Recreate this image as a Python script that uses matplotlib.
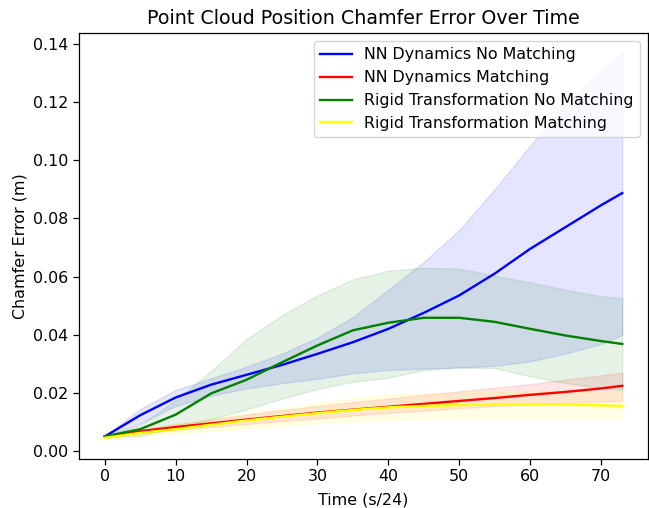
import numpy as np
import matplotlib
matplotlib.use("Agg")
import matplotlib.pyplot as plt

# time steps (s/24)
t = [0, 5, 10, 15, 20, 25, 30, 35, 40, 45, 50, 55, 60, 65, 70, 73]

# NN Dynamics No Matching
nn_nm_mean = [0.005, 0.0123, 0.0184, 0.0228, 0.0262, 0.0296, 0.0334, 0.0374, 0.042, 0.0475, 0.0535, 0.061, 0.0695, 0.077, 0.0845, 0.0887]
nn_nm_upper = [0.005, 0.0145, 0.021, 0.025, 0.029, 0.0335, 0.039, 0.046, 0.0555, 0.065, 0.076, 0.090, 0.105, 0.119, 0.131, 0.1371]
nn_nm_lower = [0.005, 0.0095, 0.0155, 0.019, 0.0215, 0.0233, 0.0248, 0.0267, 0.0279, 0.0283, 0.0287, 0.0293, 0.0308, 0.0335, 0.0368, 0.0399]

# NN Dynamics Matching
nn_m_mean = [0.005, 0.0068, 0.0082, 0.0095, 0.0108, 0.012, 0.0132, 0.0142, 0.0152, 0.0162, 0.0172, 0.0182, 0.0193, 0.0203, 0.0215, 0.0224]
nn_m_upper = [0.005, 0.0075, 0.0092, 0.0108, 0.0125, 0.014, 0.0155, 0.0168, 0.018, 0.0193, 0.0205, 0.0218, 0.023, 0.0245, 0.026, 0.0269]
nn_m_lower = [0.005, 0.0062, 0.0072, 0.0083, 0.0093, 0.0103, 0.0112, 0.0122, 0.0131, 0.0139, 0.0147, 0.0154, 0.016, 0.0165, 0.017, 0.0173]

# Rigid Transformation No Matching
rt_nm_mean = [0.005, 0.0075, 0.0125, 0.0198, 0.0245, 0.0305, 0.0363, 0.0415, 0.0441, 0.0458, 0.0458, 0.0444, 0.042, 0.0397, 0.0378, 0.0368]
rt_nm_upper = [0.005, 0.009, 0.0175, 0.0275, 0.0385, 0.0467, 0.0535, 0.059, 0.062, 0.063, 0.0627, 0.0603, 0.058, 0.0555, 0.0532, 0.0525]
rt_nm_lower = [0.005, 0.0052, 0.0078, 0.011, 0.0143, 0.018, 0.0213, 0.0238, 0.0252, 0.0278, 0.0287, 0.0285, 0.0257, 0.0233, 0.0217, 0.021]

# Rigid Transformation Matching
rt_m_mean = [0.0045, 0.0062, 0.0075, 0.009, 0.0105, 0.0118, 0.013, 0.0141, 0.015, 0.0155, 0.0158, 0.016, 0.016, 0.0159, 0.0157, 0.0155]
rt_m_upper = [0.0045, 0.0072, 0.009, 0.011, 0.0128, 0.0147, 0.0165, 0.0181, 0.0195, 0.0198, 0.020, 0.0203, 0.0205, 0.0205, 0.0205, 0.0205]
rt_m_lower = [0.0039, 0.0052, 0.006, 0.0069, 0.0078, 0.0087, 0.0095, 0.0102, 0.0108, 0.011, 0.0112, 0.0112, 0.0112, 0.0112, 0.0112, 0.0112]

series = [
    ("NN Dynamics No Matching", nn_nm_mean, nn_nm_lower, nn_nm_upper, "blue"),
    ("NN Dynamics Matching", nn_m_mean, nn_m_lower, nn_m_upper, "red"),
    ("Rigid Transformation No Matching", rt_nm_mean, rt_nm_lower, rt_nm_upper, "green"),
    ("Rigid Transformation Matching", rt_m_mean, rt_m_lower, rt_m_upper, "yellow"),
]

# reference was upscaled a bit, so everything is ~14% bigger than default
plt.rcParams.update({
    "font.size": 11.4,
    "axes.titlesize": 13.7,
    "lines.linewidth": 1.7,
    "axes.linewidth": 0.9,
    "xtick.major.size": 4,
    "ytick.major.size": 4,
    "xtick.major.width": 0.9,
    "ytick.major.width": 0.9,
    "axes.titlepad": 6.8,
})

fig = plt.figure(figsize=(6.49, 5.08), dpi=100)
ax = fig.add_axes([0.1217, 0.0965, 0.877, 0.8386])

for label, mean, lower, upper, color in series:
    ax.plot(t, mean, color=color, label=label)
    ax.fill_between(t, lower, upper, color=color, alpha=0.1)

ax.set_title("Point Cloud Position Chamfer Error Over Time")
ax.set_xlabel("Time (s/24)", labelpad=5.5)
ax.set_ylabel("Chamfer Error (m)")
ax.legend(loc="upper right")

fig.savefig("out.png", dpi=100)
